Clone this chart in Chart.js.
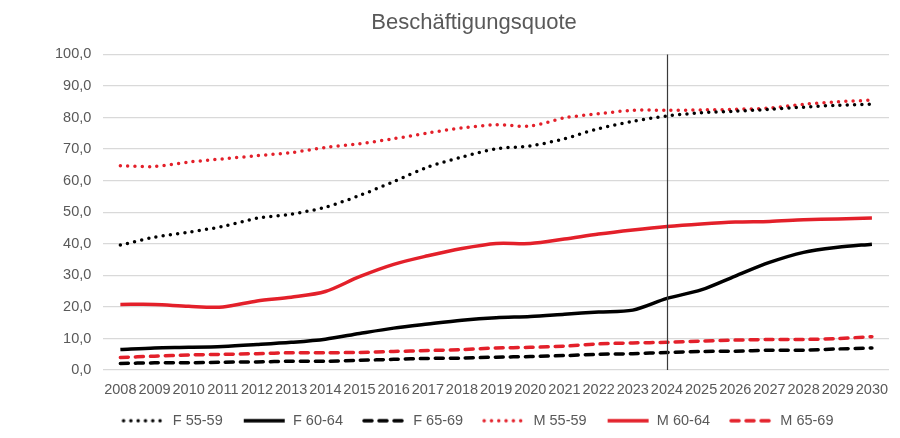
<!DOCTYPE html>
<html>
<head>
<meta charset="utf-8">
<script src="https://cdn.jsdelivr.net/npm/chart.js@4.4.1/dist/chart.umd.min.js"></script>
<style>
  html, body { margin: 0; padding: 0; background: #fff; }
  #wrap { width: 900px; height: 438px; }
</style>
</head>
<body>
<div id="wrap"><canvas id="quoteChart" width="900" height="438"></canvas></div>
<script>
"use strict";

const years = ['2008','2009','2010','2011','2012','2013','2014','2015','2016','2017','2018',
  '2019','2020','2021','2022','2023','2024','2025','2026','2027','2028','2029','2030'];

const f5559 = [39.6, 42.1, 43.7, 45.5, 48.1, 49.4, 51.6, 55.3, 59.7, 64.3, 67.5,
  70.1, 71.0, 73.3, 76.5, 78.8, 80.5, 81.5, 82.0, 82.6, 83.3, 83.9, 84.2];
const f6064 = [6.5, 7.0, 7.2, 7.5, 8.1, 8.8, 9.8, 11.6, 13.3, 14.6, 15.8,
  16.6, 17.0, 17.7, 18.4, 19.0, 22.7, 25.4, 29.8, 34.1, 37.3, 38.9, 39.9];
const f6569 = [2.1, 2.3, 2.3, 2.5, 2.6, 2.8, 2.8, 3.1, 3.4, 3.7, 3.8,
  4.1, 4.3, 4.6, 5.0, 5.2, 5.6, 5.9, 6.0, 6.3, 6.3, 6.7, 7.0];
const m5559 = [64.7, 64.5, 65.9, 66.9, 67.9, 68.9, 70.5, 71.7, 73.3, 75.1, 76.7,
  77.7, 77.3, 79.9, 81.2, 82.3, 82.3, 82.4, 82.6, 83.0, 84.2, 85.0, 85.5];
const m6064 = [20.8, 20.8, 20.2, 20.0, 21.9, 23.1, 24.9, 29.6, 33.5, 36.2, 38.5,
  40.1, 40.1, 41.5, 43.1, 44.4, 45.5, 46.3, 46.9, 47.1, 47.6, 47.9, 48.2];
const m6569 = [4.0, 4.4, 4.8, 5.0, 5.2, 5.5, 5.5, 5.6, 5.9, 6.2, 6.5,
  7.0, 7.2, 7.6, 8.3, 8.6, 8.8, 9.2, 9.5, 9.7, 9.7, 10.0, 10.6];

const markerYear = '2024';

const RED = '#e3202a';
const BLACK = '#000000';
const GREY_TEXT = '#595959';

const DOTTED = [0, 7.3];
const DASHED = [8, 7];
const SOLID = [];

// small canvas used as legend sample so the dash pattern shows;
// the empty strip on the left stands in for the gap between legend items
function legendSample(color, dash, width) {
  const c = document.createElement('canvas');
  c.width = 51;
  c.height = 8;
  const g = c.getContext('2d');
  g.strokeStyle = color;
  g.lineWidth = width;
  g.lineCap = dash.length ? 'round' : 'butt';
  g.setLineDash(dash);
  g.beginPath();
  g.moveTo(9, 4);
  g.lineTo(50, 4);
  g.stroke();
  return c;
}

function makeSet(label, data, color, dash) {
  return {
    label: label,
    data: data,
    borderColor: color,
    backgroundColor: color,
    borderWidth: 3.5,
    borderDash: dash,
    borderCapStyle: dash.length ? 'round' : 'butt',
    pointRadius: 0,
    tension: 0.3,
    fill: false,
    legendImg: legendSample(color, dash, 3.5)
  };
}

const markerLine = {
  id: 'markerLine',
  afterDatasetsDraw(chart) {
    const x = chart.scales.x.getPixelForValue(years.indexOf(markerYear));
    const area = chart.chartArea;
    const ctx = chart.ctx;
    ctx.save();
    ctx.strokeStyle = '#3a3a3a';
    ctx.lineWidth = 1.2;
    ctx.beginPath();
    ctx.moveTo(Math.round(x) + 0.5, area.top);
    ctx.lineTo(Math.round(x) + 0.5, area.bottom);
    ctx.stroke();
    ctx.restore();
  }
};

// title and legend sit a bit right of the canvas centre in the original
const nudgeBoxes = {
  id: 'nudgeBoxes',
  afterLayout(chart) {
    if (chart.titleBlock) {
      chart.titleBlock.left += 8;
      chart.titleBlock.right += 8;
    }
    if (chart.legend) {
      chart.legend.left += 8;
      chart.legend.right += 8;
    }
  }
};

const ctx = document.getElementById('quoteChart');

new Chart(ctx, {
  type: 'line',
  data: {
    labels: years,
    datasets: [
      makeSet('F 55-59', f5559, BLACK, DOTTED),
      makeSet('F 60-64', f6064, BLACK, SOLID),
      makeSet('F 65-69', f6569, BLACK, DASHED),
      makeSet('M 55-59', m5559, RED, DOTTED),
      makeSet('M 60-64', m6064, RED, SOLID),
      makeSet('M 65-69', m6569, RED, DASHED)
    ]
  },
  options: {
    responsive: false,
    animation: false,
    devicePixelRatio: 1,
    layout: {
      padding: { left: 43, right: 11, top: 6, bottom: 0 }
    },
    plugins: {
      title: {
        display: true,
        text: 'Beschäftigungsquote',
        color: GREY_TEXT,
        font: { family: 'Liberation Sans', size: 22, weight: 'normal' },
        padding: { top: 4, bottom: 18 }
      },
      legend: {
        position: 'bottom',
        labels: {
          usePointStyle: true,
          pointStyleWidth: 51,
          padding: 12,
          color: GREY_TEXT,
          font: { family: 'Liberation Sans', size: 14.5 },
          generateLabels(chart) {
            return chart.data.datasets.map((ds, i) => ({
              text: ds.label,
              pointStyle: ds.legendImg,
              fontColor: GREY_TEXT,
              lineWidth: 0,
              hidden: false,
              datasetIndex: i
            }));
          }
        }
      },
      tooltip: { enabled: false }
    },
    scales: {
      x: {
        offset: true,
        grid: { display: false },
        border: { display: false },
        ticks: {
          autoSkip: false,
          maxRotation: 0,
          color: GREY_TEXT,
          padding: 3,
          font: { family: 'Liberation Sans', size: 14.5 }
        }
      },
      y: {
        min: 0,
        max: 100,
        grid: { color: '#d9d9d9', lineWidth: 1.3, drawTicks: false },
        border: { display: false },
        ticks: {
          stepSize: 10,
          color: GREY_TEXT,
          padding: 12,
          font: { family: 'Liberation Sans', size: 14.5 },
          callback: function(value) {
            return value.toFixed(1).replace('.', ',');
          }
        }
      }
    }
  },
  plugins: [markerLine, nudgeBoxes]
});
</script>
</body>
</html>
